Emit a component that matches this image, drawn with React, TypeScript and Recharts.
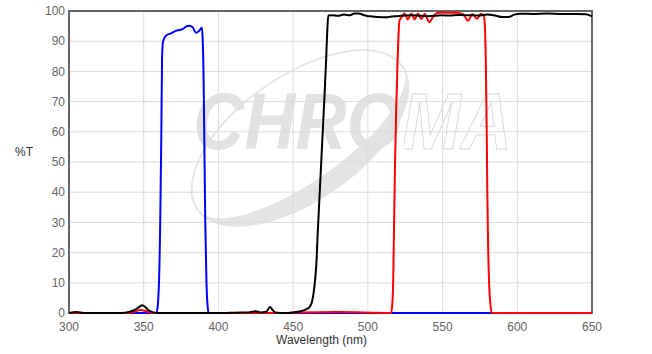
import {
  CartesianGrid,
  Line,
  LineChart,
  ReferenceArea,
  XAxis,
  YAxis,
} from "recharts";

// [wavelength nm, %T]
const bluePoints: [number, number][] = [
  [300, 0], [358.5, 0], [359.5, 3], [360.5, 15], [361, 28], [361.8, 60],
  [362.3, 85], [363, 90], [365.2, 92], [368.2, 92.6], [371.5, 93.4],
  [373.8, 93.7], [376, 94], [378.2, 94.8], [380.5, 95.1], [382.7, 94.6],
  [385, 92.8], [387.2, 93.5], [389, 94.5], [389.5, 90], [390, 80],
  [390.6, 55], [391.2, 30], [392, 10], [392.8, 2], [393.5, 0], [650, 0],
];

const blackPoints: [number, number][] = [
  [300, 0], [305, 0.3], [310, 0], [320, 0], [335, 0], [340, 0.3], [344, 1],
  [347, 2], [349, 2.6], [351, 2], [353, 1], [356, 0.3], [360, 0], [380, 0],
  [400, 0], [415, 0.2], [420, 0.2], [425, 0.6], [428, 0.2], [432, 0.4],
  [434.5, 2], [436, 1.2], [438, 0.2], [445, 0], [450, 0.2], [455, 0.6],
  [459, 1.3], [461, 2], [462.5, 3.5], [463.5, 6], [464.5, 10], [465.5, 16],
  [466.5, 27], [468, 42], [469, 52], [470, 62], [471, 72], [472, 83],
  [472.8, 93], [473.5, 98.5], [476, 98.6], [480, 98.4], [484, 98.8],
  [488, 98.6], [491, 99.2], [494, 99.2], [497, 98.7], [500, 98.3],
  [503, 98.2], [507, 98], [512, 97.9], [516, 98.2], [520, 98.3], [525, 98.5],
  [530, 98.6], [535, 98.4], [540, 98.3], [545, 98.4], [550, 98.6],
  [555, 98.5], [560, 98.7], [565, 98.6], [570, 98.6], [575, 98.5],
  [580, 98.8], [585, 98.5], [590, 98], [594, 98], [598, 98.8], [602, 99.1],
  [610, 99], [620, 99.2], [630, 99], [640, 99], [646, 98.9], [650, 98.2],
];

const redPoints: [number, number][] = [
  [300, 0], [340, 0], [344, 0.5], [348, 1], [352, 0.5], [356, 0], [400, 0],
  [440, 0], [455, 0.2], [480, 0.3], [515.5, 0], [516.5, 4], [517, 12],
  [517.5, 28], [518.2, 50], [519, 68], [519.8, 82], [520.5, 92], [521.2, 97],
  [522, 97.5], [523, 98.3], [524.6, 99.2], [526.8, 97.2], [529.1, 99.2],
  [531.3, 97.2], [533.6, 99.2], [535.8, 97.3], [538, 99], [541.2, 96.3],
  [543.5, 98], [546, 99.3], [550, 99.5], [555, 99.4], [560, 99.4],
  [562, 99.2], [564, 98.8], [567, 96.8], [570, 99], [573, 97.4],
  [575.5, 99], [577.5, 98.6], [578.3, 95], [578.9, 84], [579.5, 62],
  [580, 38], [580.5, 22], [581.2, 9], [582, 3], [582.8, 0], [600, 0],
  [650, 0],
];

const xTicks = [300, 350, 400, 450, 500, 550, 600, 650];
const yTicks = [0, 10, 20, 30, 40, 50, 60, 70, 80, 90, 100];

const toRows = (pts: [number, number][]) => pts.map(([wl, t]) => ({ wl, t }));

const tickStyle = { fontSize: 12, fill: "#666" };

// faint maker logo behind the plot: "CHRO" filled, "MA" outlined
function Watermark() {
  return (
    <svg
      width={652}
      height={354}
      style={{ position: "absolute", left: 0, top: 0 }}
    >
      <defs>
        <linearGradient id="wmFill" gradientUnits="userSpaceOnUse" x1={193} x2={512} y1={0} y2={0}>
          <stop offset="0.66" stopColor="#e2e2e2" stopOpacity={1} />
          <stop offset="0.66" stopColor="#ffffff" stopOpacity={0} />
        </linearGradient>
        <linearGradient id="wmStroke" gradientUnits="userSpaceOnUse" x1={193} x2={512} y1={0} y2={0}>
          <stop offset="0.66" stopColor="#e2e2e2" stopOpacity={0} />
          <stop offset="0.66" stopColor="#d8d8d8" stopOpacity={1} />
        </linearGradient>
      </defs>
      <ellipse
        cx={300}
        cy={138}
        rx={125}
        ry={62}
        transform="rotate(-35 300 138)"
        fill="none"
        stroke="#e6e6e6"
        strokeWidth={2}
      />
      <g transform="rotate(-35 300 138)">
        <path
          d="M 175 138 A 125 62 0 0 0 425 138 A 125 44 0 0 1 175 138 Z"
          fill="#e4e4e4"
        />
      </g>
      <text
        x={193}
        y={149}
        fontSize={80}
        fontStyle="italic"
        fontWeight="bold"
        fontFamily="Liberation Sans, Arial, sans-serif"
        textLength={319}
        lengthAdjust="spacingAndGlyphs"
        fill="url(#wmFill)"
        stroke="url(#wmStroke)"
        strokeWidth={1}
      >
        CHROMA
      </text>
    </svg>
  );
}

export default function App() {
  return (
    <div
      style={{
        position: "absolute",
        left: 0,
        top: 0,
        width: 652,
        height: 354,
        background: "#fff",
        fontFamily: "Liberation Sans, Arial, sans-serif",
      }}
    >
      <Watermark />
      <div style={{ position: "absolute", left: 0, top: 0 }}>
        <LineChart
          width={652}
          height={354}
          margin={{ top: 11, right: 60, bottom: 5, left: 0 }}
        >
          <CartesianGrid stroke="#dcdcdc" strokeWidth={1} />
          <XAxis
            type="number"
            dataKey="wl"
            domain={[300, 650]}
            ticks={xTicks}
            height={36}
            tick={tickStyle}
            tickLine={false}
            tickSize={7}
            tickMargin={2}
            axisLine={false}
            allowDuplicatedCategory={false}
            label={{
              value: "Wavelength (nm)",
              position: "insideBottom",
              offset: 5,
              dx: -9,
              fontSize: 12,
              fill: "#333",
            }}
          />
          <YAxis
            type="number"
            dataKey="t"
            domain={[0, 100]}
            ticks={yTicks}
            width={69}
            tick={tickStyle}
            tickLine={false}
            tickSize={2}
            tickMargin={2}
            axisLine={false}
            label={{
              value: "%T",
              position: "insideLeft",
              offset: 15,
              dy: -10,
              fontSize: 12,
              fill: "#333",
            }}
          />
          <ReferenceArea
            x1={300}
            x2={650}
            y1={0}
            y2={100}
            fill="none"
            stroke="#666"
            strokeWidth={2}
          />
          <Line
            data={toRows(bluePoints)}
            dataKey="t"
            type="monotone"
            stroke="#0000ff"
            strokeWidth={2}
            dot={false}
            activeDot={false}
            isAnimationActive={false}
          />
          <Line
            data={toRows(redPoints)}
            dataKey="t"
            type="monotone"
            stroke="#ff0000"
            strokeWidth={2}
            dot={false}
            activeDot={false}
            isAnimationActive={false}
          />
          <Line
            data={toRows(blackPoints)}
            dataKey="t"
            type="monotone"
            stroke="#000000"
            strokeWidth={2}
            dot={false}
            activeDot={false}
            isAnimationActive={false}
          />
        </LineChart>
      </div>
    </div>
  );
}
